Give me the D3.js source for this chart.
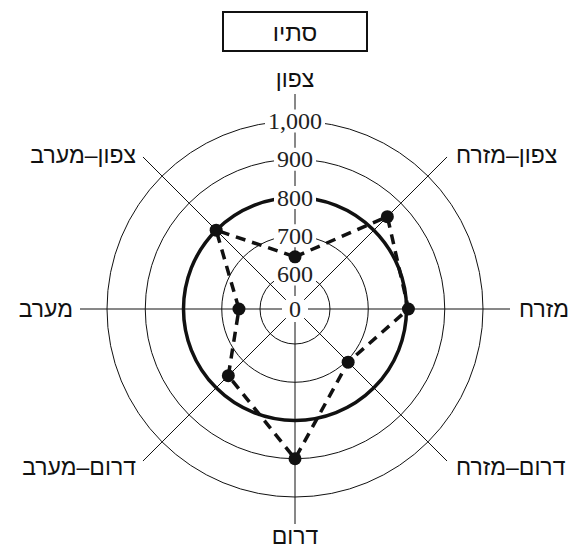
<!DOCTYPE html>
<html>
<head>
<meta charset="utf-8">
<title>radar</title>
<script src="https://d3js.org/d3.v7.min.js"></script>
<style>
  body { margin: 0; background: #fff; }
</style>
</head>
<body>
<div id="chart"></div>
<script>
// data
var directions = ['צפון', 'צפון–מזרח', 'מזרח', 'דרום–מזרח', 'דרום', 'דרום–מערב', 'מערב', 'צפון–מערב'];
var values = [645, 850, 805, 705, 900, 755, 655, 800];
var ringTicks = [600, 700, 800, 900, 1000];
var tickLabels = ['600', '700', '800', '900', '1,000'];
var referenceValue = 800;
var title = 'סתיו';

var width = 576, height = 549;
var cx = 295, cy = 309;
var spokeLen = 215;

var svg = d3.select('#chart').append('svg')
  .attr('width', width)
  .attr('height', height);

var r = d3.scaleLinear().domain([600, 1000]).range([35, 188]);

var angle = d3.scaleLinear().domain([0, directions.length]).range([0, 2 * Math.PI]);

var g = svg.append('g').attr('transform', 'translate(' + cx + ',' + cy + ')');

// title box
var tg = svg.append('g');
tg.append('rect')
  .attr('x', 223).attr('y', 12)
  .attr('width', 144).attr('height', 39)
  .attr('fill', 'white')
  .attr('stroke', '#111')
  .attr('stroke-width', 2);
tg.append('text')
  .attr('x', 295).attr('y', 32)
  .attr('text-anchor', 'middle')
  .attr('dominant-baseline', 'central')
  .attr('font-family', 'Liberation Sans, DejaVu Sans, sans-serif')
  .attr('font-size', 24)
  .attr('fill', '#111')
  .text(title);

// rings
g.selectAll('.ring')
  .data(ringTicks)
  .enter()
  .append('circle')
  .attr('class', 'ring')
  .attr('r', function(d){ return r(d); })
  .attr('fill', 'none')
  .attr('stroke', '#111')
  .attr('stroke-width', function(d){ return d === referenceValue ? 3.5 : 1; });

// spokes
g.selectAll('.spoke')
  .data(directions)
  .enter()
  .append('line')
  .attr('class', 'spoke')
  .attr('x1', function(d, i){ return 13 * Math.sin(angle(i)); })
  .attr('y1', function(d, i){ return -13 * Math.cos(angle(i)); })
  .attr('x2', function(d, i){ return spokeLen * Math.sin(angle(i)); })
  .attr('y2', function(d, i){ return -spokeLen * Math.cos(angle(i)); })
  .attr('stroke', '#111')
  .attr('stroke-width', 1);

// direction labels
g.selectAll('.dirLabel')
  .data(directions)
  .enter()
  .append('text')
  .attr('class', 'dirLabel')
  .attr('x', function(d, i){
    var s = Math.sin(angle(i));
    var x = spokeLen * s;
    if (s > 0.1) return x + 9;
    if (s < -0.1) return x - 7;
    return x;
  })
  .attr('y', function(d, i){
    var c = Math.cos(angle(i));
    var y = -spokeLen * c;
    if (c > 0.9) return y - 15;
    if (c < -0.9) return y + 20;
    if (c > 0.1) return y - 2;
    if (c < -0.1) return y + 6;
    return y;
  })
  .attr('text-anchor', function(d, i){
    var s = Math.sin(angle(i));
    if (s > 0.1) return 'start';
    if (s < -0.1) return 'end';
    return 'middle';
  })
  .attr('dominant-baseline', function(d, i){
    return Math.cos(angle(i)) < -0.9 ? 'auto' : 'central';
  })
  .attr('font-family', 'Liberation Sans, DejaVu Sans, sans-serif')
  .attr('font-size', 23)
  .attr('fill', '#111')
  .text(function(d){ return d; });

// tick labels on the north spoke
var tl = g.selectAll('.tickLabel')
  .data(ringTicks)
  .enter()
  .append('g')
  .attr('class', 'tickLabel')
  .attr('transform', function(d){ return 'translate(0,' + (-r(d)) + ')'; });

tl.append('rect')
  .attr('fill', 'white');

tl.append('text')
  .attr('text-anchor', 'middle')
  .attr('dominant-baseline', 'central')
  .attr('font-family', 'Liberation Serif, Times New Roman, serif')
  .attr('font-size', 24)
  .attr('fill', '#222')
  .text(function(d, i){ return tickLabels[i]; });

tl.each(function(){
  var t = d3.select(this).select('text').node().getBBox();
  d3.select(this).select('rect')
    .attr('x', t.x - 3)
    .attr('y', -11.5)
    .attr('width', t.width + 6)
    .attr('height', 23);
});

// center label
g.append('text')
  .attr('x', 0).attr('y', 0)
  .attr('text-anchor', 'middle')
  .attr('dominant-baseline', 'central')
  .attr('font-family', 'Liberation Serif, Times New Roman, serif')
  .attr('font-size', 24)
  .attr('fill', '#222')
  .text('0');

// data polygon
var line = d3.lineRadial()
  .angle(function(d, i){ return angle(i); })
  .radius(function(d){ return r(d); })
  .curve(d3.curveLinearClosed);

g.append('path')
  .attr('d', line(values))
  .attr('fill', 'none')
  .attr('stroke', '#111')
  .attr('stroke-width', 3.5)
  .attr('stroke-dasharray', '10,7');

g.selectAll('.dot')
  .data(values)
  .enter()
  .append('circle')
  .attr('class', 'dot')
  .attr('cx', function(d, i){ return r(d) * Math.sin(angle(i)); })
  .attr('cy', function(d, i){ return -r(d) * Math.cos(angle(i)); })
  .attr('r', 6.5)
  .attr('fill', '#111');
</script>
</body>
</html>
